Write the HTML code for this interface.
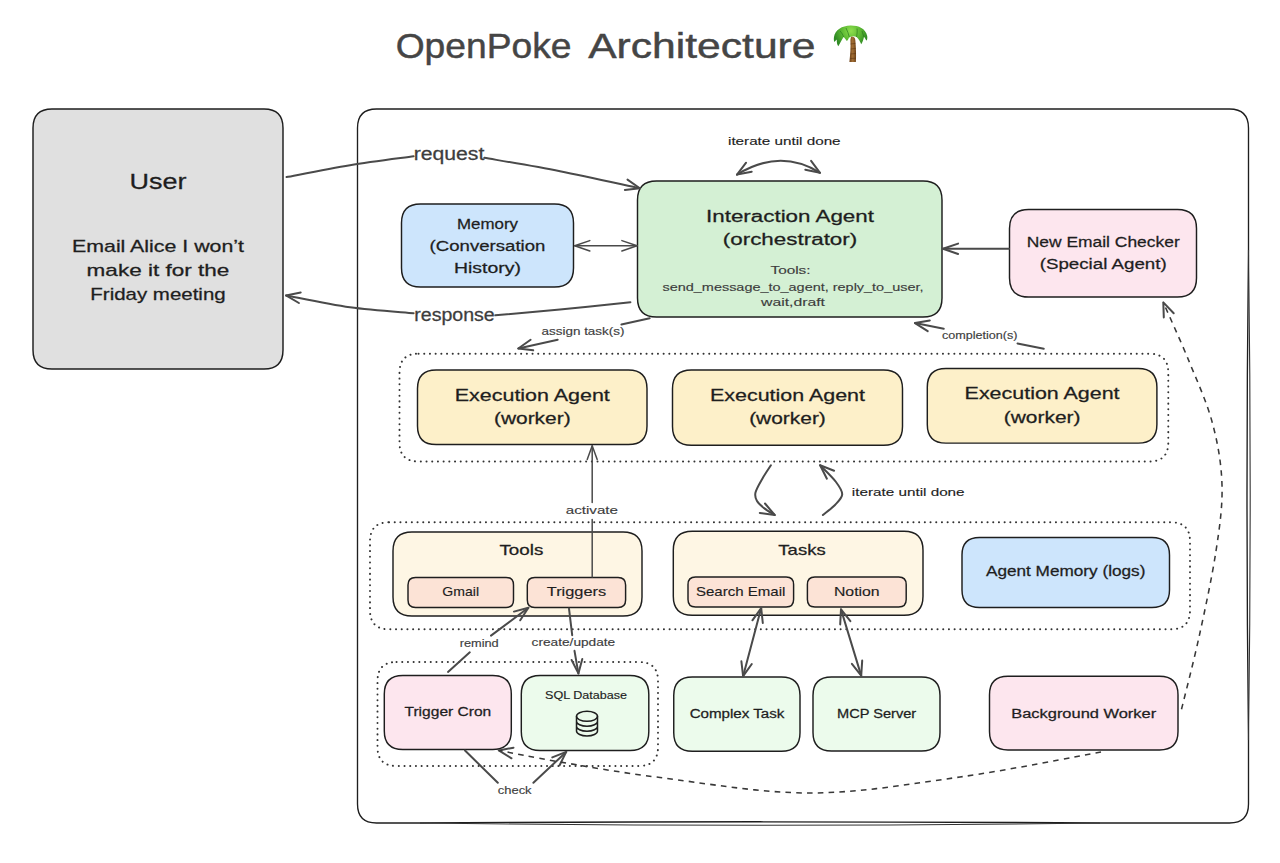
<!DOCTYPE html><html><head><meta charset="utf-8"><title>OpenPoke Architecture</title><style>html,body{margin:0;padding:0;background:#fff;width:1280px;height:863px;overflow:hidden}svg{display:block}</style></head><body>
<svg width="1280" height="863" viewBox="0 0 1280 863" font-family='"Liberation Sans", sans-serif'>
<rect width="1280" height="863" fill="#fff"/>
<path d="M376.5 109 L1229.5 109 Q1248.5 109 1248.5 128 L1248.5 250 Q1245.5 495 1248.5 740 L1248.5 804 Q1248.5 823 1229.5 823 L1100 823 Q760 820.6 420 823 L376.5 823 Q357.5 823 357.5 804 L357.5 128 Q357.5 109 376.5 109 Z" fill="#fff" stroke="#1e1e1e" stroke-width="1.35"/>
<path d="M1248.5 250 Q1251.9 495 1248.5 740 M1100 823 Q760 827.4 420 823" fill="none" stroke="#333" stroke-width="1.1"/>
<path d="M52 109 L264 109 Q283 109 283 128 L283 350 Q283 369 264 369 L52 369 Q33 369 33 350 L33 128 Q33 109 52 109 Z" fill="#e0e0e0" stroke="#1e1e1e" stroke-width="1.45"/>
<path d="M420.5 204 L554.5 204 Q573.5 204 573.5 223 L573.5 268 Q573.5 287 554.5 287 L420.5 287 Q401.5 287 401.5 268 L401.5 223 Q401.5 204 420.5 204 Z" fill="#cde5fc" stroke="#1e1e1e" stroke-width="1.45"/>
<path d="M656.5 181 L923 181 Q942 181 942 200 L942 298 Q942 317 923 317 L656.5 317 Q637.5 317 637.5 298 L637.5 200 Q637.5 181 656.5 181 Z" fill="#d4f0d4" stroke="#1e1e1e" stroke-width="1.45"/>
<path d="M1028.5 209.5 L1177.5 209.5 Q1196.5 209.5 1196.5 228.5 L1196.5 278 Q1196.5 297 1177.5 297 L1028.5 297 Q1009.5 297 1009.5 278 L1009.5 228.5 Q1009.5 209.5 1028.5 209.5 Z" fill="#fde6ee" stroke="#1e1e1e" stroke-width="1.45"/>
<path d="M436.12 370 L628.38 370 Q647 370 647 388.62 L647 425.88 Q647 444.5 628.38 444.5 L436.12 444.5 Q417.5 444.5 417.5 425.88 L417.5 388.62 Q417.5 370 436.12 370 Z" fill="#fdf0c9" stroke="#1e1e1e" stroke-width="1.45"/>
<path d="M691.33 370 L883.67 370 Q902.5 370 902.5 388.82 L902.5 426.48 Q902.5 445.3 883.67 445.3 L691.33 445.3 Q672.5 445.3 672.5 426.48 L672.5 388.82 Q672.5 370 691.33 370 Z" fill="#fdf0c9" stroke="#1e1e1e" stroke-width="1.45"/>
<path d="M945.95 368.5 L1138.25 368.5 Q1156.9 368.5 1156.9 387.15 L1156.9 424.45 Q1156.9 443.1 1138.25 443.1 L945.95 443.1 Q927.3 443.1 927.3 424.45 L927.3 387.15 Q927.3 368.5 945.95 368.5 Z" fill="#fdf0c9" stroke="#1e1e1e" stroke-width="1.45"/>
<path d="M412 532 L623 532 Q642 532 642 551 L642 597 Q642 616 623 616 L412 616 Q393 616 393 597 L393 551 Q393 532 412 532 Z" fill="#fef6e4" stroke="#1e1e1e" stroke-width="1.45"/>
<path d="M415.5 577.4 L506 577.4 Q513.5 577.4 513.5 584.9 L513.5 599.9 Q513.5 607.4 506 607.4 L415.5 607.4 Q408 607.4 408 599.9 L408 584.9 Q408 577.4 415.5 577.4 Z" fill="#fce3d6" stroke="#1e1e1e" stroke-width="1.45"/>
<path d="M534.8 577.4 L618.1 577.4 Q625.6 577.4 625.6 584.9 L625.6 599.9 Q625.6 607.4 618.1 607.4 L534.8 607.4 Q527.3 607.4 527.3 599.9 L527.3 584.9 Q527.3 577.4 534.8 577.4 Z" fill="#fce3d6" stroke="#1e1e1e" stroke-width="1.45"/>
<path d="M692.3 531.2 L904 531.2 Q923 531.2 923 550.2 L923 596.2 Q923 615.2 904 615.2 L692.3 615.2 Q673.3 615.2 673.3 596.2 L673.3 550.2 Q673.3 531.2 692.3 531.2 Z" fill="#fef6e4" stroke="#1e1e1e" stroke-width="1.45"/>
<path d="M695.5 577 L786.1 577 Q793.6 577 793.6 584.5 L793.6 599.5 Q793.6 607 786.1 607 L695.5 607 Q688 607 688 599.5 L688 584.5 Q688 577 695.5 577 Z" fill="#fce3d6" stroke="#1e1e1e" stroke-width="1.45"/>
<path d="M814.9 577 L898.7 577 Q906.2 577 906.2 584.5 L906.2 599.5 Q906.2 607 898.7 607 L814.9 607 Q807.4 607 807.4 599.5 L807.4 584.5 Q807.4 577 814.9 577 Z" fill="#fce3d6" stroke="#1e1e1e" stroke-width="1.45"/>
<path d="M979.5 537.5 L1152 537.5 Q1169.5 537.5 1169.5 555 L1169.5 590 Q1169.5 607.5 1152 607.5 L979.5 607.5 Q962 607.5 962 590 L962 555 Q962 537.5 979.5 537.5 Z" fill="#cde5fc" stroke="#1e1e1e" stroke-width="1.45"/>
<path d="M402.8 675.5 L492.8 675.5 Q511.3 675.5 511.3 694 L511.3 731 Q511.3 749.5 492.8 749.5 L402.8 749.5 Q384.3 749.5 384.3 731 L384.3 694 Q384.3 675.5 402.8 675.5 Z" fill="#fde6ee" stroke="#1e1e1e" stroke-width="1.45"/>
<path d="M540.05 675.5 L630.05 675.5 Q648.8 675.5 648.8 694.25 L648.8 731.75 Q648.8 750.5 630.05 750.5 L540.05 750.5 Q521.3 750.5 521.3 731.75 L521.3 694.25 Q521.3 675.5 540.05 675.5 Z" fill="#ecfbec" stroke="#1e1e1e" stroke-width="1.45"/>
<path d="M692.31 677 L781.44 677 Q800 677 800 695.56 L800 732.69 Q800 751.25 781.44 751.25 L692.31 751.25 Q673.75 751.25 673.75 732.69 L673.75 695.56 Q673.75 677 692.31 677 Z" fill="#ecfbec" stroke="#1e1e1e" stroke-width="1.45"/>
<path d="M831.5 677 L921.5 677 Q940 677 940 695.5 L940 732.5 Q940 751 921.5 751 L831.5 751 Q813 751 813 732.5 L813 695.5 Q813 677 831.5 677 Z" fill="#ecfbec" stroke="#1e1e1e" stroke-width="1.45"/>
<path d="M1007.94 676.25 L1159.56 676.25 Q1178 676.25 1178 694.69 L1178 731.56 Q1178 750 1159.56 750 L1007.94 750 Q989.5 750 989.5 731.56 L989.5 694.69 Q989.5 676.25 1007.94 676.25 Z" fill="#fde6ee" stroke="#1e1e1e" stroke-width="1.45"/>
<path d="M418.5 353.7 L1149.3 353.7 Q1168.3 353.7 1168.3 372.7 L1168.3 442.5 Q1168.3 461.5 1149.3 461.5 L418.5 461.5 Q399.5 461.5 399.5 442.5 L399.5 372.7 Q399.5 353.7 418.5 353.7 Z" fill="none" stroke="#333" stroke-width="1.95" stroke-dasharray="0.1 5.6" stroke-linecap="round"/>
<path d="M389 522.3 L1171 522.3 Q1190 522.3 1190 541.3 L1190 610.3 Q1190 629.3 1171 629.3 L389 629.3 Q370 629.3 370 610.3 L370 541.3 Q370 522.3 389 522.3 Z" fill="none" stroke="#333" stroke-width="1.95" stroke-dasharray="0.1 5.6" stroke-linecap="round"/>
<path d="M396.5 662 L639 662 Q658 662 658 681 L658 747 Q658 766 639 766 L396.5 766 Q377.5 766 377.5 747 L377.5 681 Q377.5 662 396.5 662 Z" fill="none" stroke="#333" stroke-width="1.95" stroke-dasharray="0.1 5.6" stroke-linecap="round"/>
<g fill="none" stroke="#4a4a4a" stroke-width="2" stroke-linecap="round" stroke-linejoin="round">
<path d="M286.5 177.1 C297.1 175.1 328.8 168.7 350.0 165.2 C371.2 161.7 403.0 157.8 413.6 156.3"/>
<path d="M484.3 157.8 C496.9 160.0 534.1 166.1 560.0 171.2 C585.9 176.3 626.5 185.4 639.8 188.2"/>
<path d="M624.9 190.0 L639.8 188.2 L627.5 179.6"/>
<path d="M630.4 302.2 C618.7 303.4 582.5 307.3 560.0 309.5 C537.5 311.7 506.1 314.3 495.3 315.3"/>
<path d="M413.6 313.2 C403.0 312.2 371.3 310.3 350.0 307.3 C328.7 304.3 296.7 297.4 286.0 295.4"/>
<path d="M300.7 292.4 L286 295.4 L298.9 303.0"/>
<path d="M737 174.6 Q780 148 820 172.8"/>
<path d="M746.1 162.7 L737 174.6 L751.7 171.8"/>
<path d="M805.3 169.8 L820 172.8 L811.1 160.8"/>
<path d="M1009 248.8 L943 248.8"/>
<path d="M958.1 243.6 L943 248.8 L958.1 254.0"/>
<path d="M649.7 318.3 L621.4 324.5"/>
<path d="M557.7 339.8 L518.3 348.5"/>
<path d="M530.6 339.8 L518.3 348.5 L533.2 350.3"/>
<path d="M1043.8 348.8 L1017.5 343.5"/>
<path d="M943.8 328.8 L915 323.1"/>
<path d="M929.8 320.5 L915 323.1 L927.7 331.1"/>
<path d="M770.9 465.3 C769.5 467.5 765.1 473.9 762.5 478.4 C759.9 482.9 756.4 488.7 755.5 492.5 C754.6 496.3 755.5 498.4 757.0 501.0 C758.5 503.6 761.4 506.1 764.4 508.4 C767.4 510.7 773.0 513.9 774.7 515.0"/>
<path d="M759.8 512.9 L774.7 515 L765.0 503.5"/>
<path d="M822.9 515.0 C824.9 513.3 831.8 508.4 835.0 505.0 C838.2 501.6 842.0 498.2 842.2 494.4 C842.4 490.6 839.7 486.9 836.0 482.0 C832.3 477.1 822.8 468.1 820.1 465.3"/>
<path d="M834.1 470.7 L820.1 465.3 L826.9 478.7"/>
<path d="M448 671.9 L469.8 652.3"/>
<path d="M491 635.6 L528.4 607.8"/>
<path d="M520.2 620.3 L528.4 607.8 L513.9 611.6"/>
<path d="M569 608.6 L572.2 635.2"/>
<path d="M574.5 650.8 L578.4 673.4"/>
<path d="M571.6 660.0 L578.4 673.4 L582.3 658.9"/>
<path d="M761.2 608.1 L743.1 676.2"/>
<path d="M762.8 623.0 L761.2 608.1 L752.4 620.3"/>
<path d="M741.4 661.3 L743.1 676.2 L751.8 664.0"/>
<path d="M841 609.4 L861.2 675.6"/>
<path d="M850.4 621.1 L841 609.4 L840.2 624.4"/>
<path d="M851.9 663.8 L861.2 675.6 L862.2 660.6"/>
<path d="M465 750.5 L497.8 782.8"/>
<path d="M533.4 782.8 L566.2 751.9"/>
<path d="M559.6 765.3 L566.2 751.9 L552.3 757.4"/>
<path d="M513.5 747.7 L498.75 750.4 L511.5 758.3"/>
<path d="M1173.7 313.2 L1163.3 302.4 L1163.8 317.4"/>
</g>
<g fill="none" stroke="#4a4a4a" stroke-width="1.5" stroke-linecap="round" stroke-linejoin="round">
<path d="M574.7 245.8 L637 245.8"/>
<path d="M589.8 240.6 L574.7 245.8 L589.8 251.0"/>
<path d="M621.9 251.0 L637 245.8 L621.9 240.6"/>
<path d="M592.2 577 L592.2 519.4"/>
<path d="M592.2 502.6 L592.2 445.8"/>
<path d="M597.2 459.4 L592.2 445.8 L587.2 459.4"/>
</g>
<g fill="none" stroke="#383838" stroke-width="1.55" stroke-dasharray="5.6 5.2">
<path d="M1101.0 752.0 C1077.5 756.2 1008.5 770.2 960.0 777.0 C911.5 783.8 860.0 792.9 810.0 793.0 C760.0 793.1 701.7 782.7 660.0 777.5 C618.3 772.3 586.9 766.5 560.0 762.0 C533.1 757.5 509.0 752.3 498.8 750.4"/>
<path d="M1181.5 709.3 C1184.5 697.0 1193.7 661.7 1199.4 635.3 C1205.2 608.9 1212.2 576.0 1216.0 551.0 C1219.8 526.0 1222.6 506.3 1222.0 485.0 C1221.4 463.7 1217.9 443.5 1212.4 423.0 C1207.0 402.5 1197.5 382.0 1189.3 361.9 C1181.1 341.8 1167.6 312.3 1163.3 302.4"/>
</g>
<g fill="none" stroke="#1e1e1e" stroke-width="1.5"><ellipse cx="587" cy="716.3" rx="10.5" ry="5"/><path d="M576.5 716.3 V731 A10.5 5 0 0 0 597.5 731 V716.3 M576.5 721.2 A10.5 5 0 0 0 597.5 721.2 M576.5 726.2 A10.5 5 0 0 0 597.5 726.2"/></g>
<defs><radialGradient id="pg" cx="851" cy="31" r="17" gradientUnits="userSpaceOnUse"><stop offset="0" stop-color="#8fe04e"/><stop offset="0.55" stop-color="#5cb832"/><stop offset="1" stop-color="#2f8a24"/></radialGradient>
<linearGradient id="tg" x1="0" y1="0" x2="1" y2="0"><stop offset="0" stop-color="#6e4218"/><stop offset="0.5" stop-color="#a36f35"/><stop offset="1" stop-color="#6e4218"/></linearGradient></defs>
<path d="M851 36.5 C853.5 36 855.2 37.5 855.3 40 C856 48 856.3 55 855.9 62 L849.4 62 C850.2 55 850.9 47 850.4 40 Z" fill="url(#tg)"/>
<path d="M850.6 44 L855.4 43.4 M850.8 49 L855.8 48.4 M850.6 54 L856 53.5 M850.2 58.5 L856 58.2" stroke="#5a3412" stroke-width="0.8" opacity="0.7"/>
<path d="M834 37 C835 30 842 25.8 850.5 25.6 C858.5 25.5 865.5 28.5 867.2 36 C867.6 38.5 867 40.5 866.3 40.5 C865.6 39 864.8 37.5 864 37 C863.4 39.5 862.5 42.5 861.2 44.2 C860.2 41.5 858.6 38.8 856.5 37 C854.5 36 851.5 36 849.3 37.5 C848.3 39 847.6 40.6 846.8 41 C845.6 39.5 844.6 37.8 843.6 37 C842 39.5 840.3 43 838.3 46.2 C837.2 44.8 836.6 42.5 836.8 39.5 C836 40.3 835 41.4 834.3 42 C833.8 40.5 833.7 38.5 834 37 Z" fill="url(#pg)"/>
<path d="M840 31 C842 33 843 35 843.6 37 M846 28 C847.5 31 848.5 34 849.3 37 M857 28.5 C857.5 31.5 857 34.5 856.5 37 M862 31 C862.5 33 863.2 35 864 37" stroke="#2c7d1f" stroke-width="0.9" fill="none" opacity="0.8"/>
<text x="395.7" y="57.5" font-size="34.65" fill="#454545" stroke="#454545" stroke-width="0.45" text-anchor="start" textLength="175.8" lengthAdjust="spacingAndGlyphs">OpenPoke</text>
<text x="588.2" y="57.5" font-size="34.65" fill="#454545" stroke="#454545" stroke-width="0.45" text-anchor="start" textLength="227.3" lengthAdjust="spacingAndGlyphs">Architecture</text>
<text x="158" y="189.3" font-size="21.87" fill="#1e1e1e" stroke="#1e1e1e" stroke-width="0.26" text-anchor="middle" textLength="57" lengthAdjust="spacingAndGlyphs">User</text>
<text x="158" y="252" font-size="15.75" fill="#1e1e1e" stroke="#1e1e1e" stroke-width="0.26" text-anchor="middle" textLength="172" lengthAdjust="spacingAndGlyphs">Email Alice I won’t</text>
<text x="158" y="276" font-size="15.75" fill="#1e1e1e" stroke="#1e1e1e" stroke-width="0.26" text-anchor="middle" textLength="142.8" lengthAdjust="spacingAndGlyphs">make it for the</text>
<text x="158" y="300" font-size="15.75" fill="#1e1e1e" stroke="#1e1e1e" stroke-width="0.26" text-anchor="middle" textLength="135.3" lengthAdjust="spacingAndGlyphs">Friday meeting</text>
<text x="487.5" y="229" font-size="15.30" fill="#1e1e1e" stroke="#1e1e1e" stroke-width="0.26" text-anchor="middle" textLength="61" lengthAdjust="spacingAndGlyphs">Memory</text>
<text x="487.5" y="251.3" font-size="15.30" fill="#1e1e1e" stroke="#1e1e1e" stroke-width="0.26" text-anchor="middle" textLength="115.8" lengthAdjust="spacingAndGlyphs">(Conversation</text>
<text x="487.5" y="272.6" font-size="15.30" fill="#1e1e1e" stroke="#1e1e1e" stroke-width="0.26" text-anchor="middle" textLength="67" lengthAdjust="spacingAndGlyphs">History)</text>
<text x="790" y="221.8" font-size="16.65" fill="#1e1e1e" stroke="#1e1e1e" stroke-width="0.26" text-anchor="middle" textLength="168" lengthAdjust="spacingAndGlyphs">Interaction Agent</text>
<text x="790" y="245" font-size="16.65" fill="#1e1e1e" stroke="#1e1e1e" stroke-width="0.26" text-anchor="middle" textLength="134.5" lengthAdjust="spacingAndGlyphs">(orchestrator)</text>
<text x="790.5" y="274" font-size="11.25" fill="#3d3d3d" stroke="#3d3d3d" stroke-width="0.14" text-anchor="middle" textLength="40" lengthAdjust="spacingAndGlyphs">Tools:</text>
<text x="793" y="290.5" font-size="11.25" fill="#3d3d3d" stroke="#3d3d3d" stroke-width="0.14" text-anchor="middle" textLength="261" lengthAdjust="spacingAndGlyphs">send_message_to_agent, reply_to_user,</text>
<text x="793" y="306" font-size="11.25" fill="#3d3d3d" stroke="#3d3d3d" stroke-width="0.14" text-anchor="middle" textLength="64" lengthAdjust="spacingAndGlyphs">wait,draft</text>
<text x="784.3" y="145.3" font-size="11.25" fill="#1e1e1e" stroke="#1e1e1e" stroke-width="0.14" text-anchor="middle" textLength="112.6" lengthAdjust="spacingAndGlyphs">iterate until done</text>
<text x="1103.2" y="247.2" font-size="15.30" fill="#1e1e1e" stroke="#1e1e1e" stroke-width="0.26" text-anchor="middle" textLength="153" lengthAdjust="spacingAndGlyphs">New Email Checker</text>
<text x="1103.2" y="268.6" font-size="15.30" fill="#1e1e1e" stroke="#1e1e1e" stroke-width="0.26" text-anchor="middle" textLength="127" lengthAdjust="spacingAndGlyphs">(Special Agent)</text>
<text x="532.3" y="400.8" font-size="16.65" fill="#1e1e1e" stroke="#1e1e1e" stroke-width="0.26" text-anchor="middle" textLength="155" lengthAdjust="spacingAndGlyphs">Execution Agent</text>
<text x="532.3" y="424" font-size="16.65" fill="#1e1e1e" stroke="#1e1e1e" stroke-width="0.26" text-anchor="middle" textLength="76.7" lengthAdjust="spacingAndGlyphs">(worker)</text>
<text x="787.5" y="400.8" font-size="16.65" fill="#1e1e1e" stroke="#1e1e1e" stroke-width="0.26" text-anchor="middle" textLength="155" lengthAdjust="spacingAndGlyphs">Execution Agent</text>
<text x="787.5" y="424" font-size="16.65" fill="#1e1e1e" stroke="#1e1e1e" stroke-width="0.26" text-anchor="middle" textLength="76.7" lengthAdjust="spacingAndGlyphs">(worker)</text>
<text x="1042.1" y="399.3" font-size="16.65" fill="#1e1e1e" stroke="#1e1e1e" stroke-width="0.26" text-anchor="middle" textLength="155" lengthAdjust="spacingAndGlyphs">Execution Agent</text>
<text x="1042.1" y="422.5" font-size="16.65" fill="#1e1e1e" stroke="#1e1e1e" stroke-width="0.26" text-anchor="middle" textLength="76.7" lengthAdjust="spacingAndGlyphs">(worker)</text>
<text x="979.7" y="339.4" font-size="10.35" fill="#3d3d3d" stroke="#3d3d3d" stroke-width="0.14" text-anchor="middle" textLength="75.6" lengthAdjust="spacingAndGlyphs">completion(s)</text>
<text x="583" y="334.5" font-size="10.35" fill="#3d3d3d" stroke="#3d3d3d" stroke-width="0.14" text-anchor="middle" textLength="83" lengthAdjust="spacingAndGlyphs">assign task(s)</text>
<text x="449" y="159.6" font-size="17.82" fill="#3d3d3d" stroke="#3d3d3d" stroke-width="0.26" text-anchor="middle" textLength="70.7" lengthAdjust="spacingAndGlyphs">request</text>
<text x="454.5" y="321" font-size="17.46" fill="#3d3d3d" stroke="#3d3d3d" stroke-width="0.26" text-anchor="middle" textLength="80.5" lengthAdjust="spacingAndGlyphs">response</text>
<text x="591.9" y="514.2" font-size="11.25" fill="#3d3d3d" stroke="#3d3d3d" stroke-width="0.14" text-anchor="middle" textLength="52.2" lengthAdjust="spacingAndGlyphs">activate</text>
<text x="908.2" y="495.9" font-size="11.25" fill="#1e1e1e" stroke="#1e1e1e" stroke-width="0.14" text-anchor="middle" textLength="112.8" lengthAdjust="spacingAndGlyphs">iterate until done</text>
<text x="521.4" y="555" font-size="14.40" fill="#1e1e1e" stroke="#1e1e1e" stroke-width="0.26" text-anchor="middle" textLength="43.9" lengthAdjust="spacingAndGlyphs">Tools</text>
<text x="460.7" y="596" font-size="12.15" fill="#1e1e1e" stroke="#1e1e1e" stroke-width="0.14" text-anchor="middle" textLength="36.7" lengthAdjust="spacingAndGlyphs">Gmail</text>
<text x="576.5" y="596" font-size="12.15" fill="#1e1e1e" stroke="#1e1e1e" stroke-width="0.14" text-anchor="middle" textLength="59.5" lengthAdjust="spacingAndGlyphs">Triggers</text>
<text x="802" y="554.8" font-size="14.40" fill="#1e1e1e" stroke="#1e1e1e" stroke-width="0.26" text-anchor="middle" textLength="47.3" lengthAdjust="spacingAndGlyphs">Tasks</text>
<text x="740.7" y="596" font-size="12.15" fill="#1e1e1e" stroke="#1e1e1e" stroke-width="0.14" text-anchor="middle" textLength="89.5" lengthAdjust="spacingAndGlyphs">Search Email</text>
<text x="856.8" y="596" font-size="12.15" fill="#1e1e1e" stroke="#1e1e1e" stroke-width="0.14" text-anchor="middle" textLength="45.7" lengthAdjust="spacingAndGlyphs">Notion</text>
<text x="1065.7" y="576" font-size="14.40" fill="#1e1e1e" stroke="#1e1e1e" stroke-width="0.26" text-anchor="middle" textLength="159.5" lengthAdjust="spacingAndGlyphs">Agent Memory (logs)</text>
<text x="447.9" y="716" font-size="13.05" fill="#1e1e1e" stroke="#1e1e1e" stroke-width="0.26" text-anchor="middle" textLength="86.75" lengthAdjust="spacingAndGlyphs">Trigger Cron</text>
<text x="586" y="698.8" font-size="10.35" fill="#1e1e1e" stroke="#1e1e1e" stroke-width="0.14" text-anchor="middle" textLength="82" lengthAdjust="spacingAndGlyphs">SQL Database</text>
<text x="737" y="718" font-size="13.05" fill="#1e1e1e" stroke="#1e1e1e" stroke-width="0.26" text-anchor="middle" textLength="94.75" lengthAdjust="spacingAndGlyphs">Complex Task</text>
<text x="876.6" y="718" font-size="13.05" fill="#1e1e1e" stroke="#1e1e1e" stroke-width="0.26" text-anchor="middle" textLength="79.25" lengthAdjust="spacingAndGlyphs">MCP Server</text>
<text x="1083.7" y="718" font-size="13.05" fill="#1e1e1e" stroke="#1e1e1e" stroke-width="0.26" text-anchor="middle" textLength="145" lengthAdjust="spacingAndGlyphs">Background Worker</text>
<text x="479.2" y="646.9" font-size="10.35" fill="#3d3d3d" stroke="#3d3d3d" stroke-width="0.14" text-anchor="middle" textLength="39" lengthAdjust="spacingAndGlyphs">remind</text>
<text x="573.4" y="646.1" font-size="10.35" fill="#3d3d3d" stroke="#3d3d3d" stroke-width="0.14" text-anchor="middle" textLength="83.6" lengthAdjust="spacingAndGlyphs">create/update</text>
<text x="514.7" y="794" font-size="11.25" fill="#3d3d3d" stroke="#3d3d3d" stroke-width="0.14" text-anchor="middle" textLength="33.8" lengthAdjust="spacingAndGlyphs">check</text>
</svg></body></html>
